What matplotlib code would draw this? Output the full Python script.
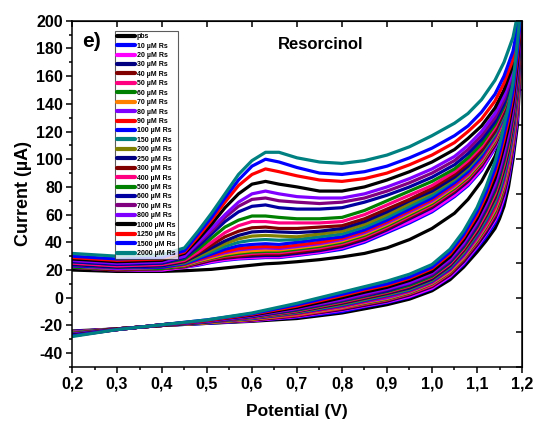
import numpy as np
import matplotlib.pyplot as plt

plt.rcParams['font.family'] = ['Liberation Sans', 'DejaVu Sans']
plt.rcParams['font.weight'] = 'bold'
plt.rcParams['axes.labelweight'] = 'bold'
plt.rcParams['axes.unicode_minus'] = False

# legend labels and colours (drawing order: pbs first, 2000 last)
labels = ['pbs', '10 µM Rs', '20 µM Rs', '30 µM Rs', '40 µM Rs', '50 µM Rs',
          '60 µM Rs', '70 µM Rs', '80 µM Rs', '90 µM Rs', '100 µM Rs',
          '150 µM Rs', '200 µM Rs', '250 µM Rs', '300 µM Rs', '400 µM Rs',
          '500 µM Rs', '600 µM Rs', '700 µM Rs', '800 µM Rs', '1000 µM Rs',
          '1250 µM Rs', '1500 µM Rs', '2000 µM Rs']
colors = ['#000000', '#0000FF', '#FF00FF', '#000080', '#800000', '#FF0080',
          '#008000', '#FF8000', '#8000FF', '#FF0000', '#0000FF', '#008080',
          '#808000', '#000080', '#800000', '#FF0080', '#008000', '#0000A0',
          '#800080', '#8000FF', '#000000', '#FF0000', '#0000FF', '#008080']

# forward (anodic) scan potentials, V
fwd_pot = [0.2, 0.3, 0.4, 0.45, 0.48, 0.51, 0.54, 0.57, 0.6, 0.63, 0.66, 0.7,
           0.75, 0.8, 0.85, 0.9, 0.95, 1.0, 1.05, 1.08, 1.11, 1.14, 1.16, 1.18, 1.2]
# reverse scan potentials, V (after the 1.2 V vertex)
rev_pot = [1.19, 1.18, 1.17, 1.16, 1.15, 1.14, 1.12, 1.1, 1.07, 1.04, 1.0,
           0.95, 0.9, 0.85, 0.8, 0.7, 0.6, 0.5, 0.4, 0.3, 0.2]

# currents (uA), one row per curve, same order as labels
fwd_cur = [
    [20, 19, 19, 19.5, 20, 20.5, 21.5, 22.5, 23.5, 24.5, 25, 26, 27.5, 29.5, 32, 36, 42, 50, 61, 71, 84, 102, 120, 146, 190],
    [22, 20, 20, 22, 23.5, 25.5, 27, 28, 28.5, 29, 29, 30.5, 32.5, 35, 40, 47, 54, 62, 73, 81, 92, 108, 122, 146, 196],
    [22, 20, 20, 22, 24, 26, 27.5, 28.5, 29, 29.5, 29.5, 31, 33, 36, 41, 48, 55, 63, 74, 82, 93, 109, 123, 147, 196],
    [22, 20, 21, 22.5, 24.5, 27, 28.5, 29.5, 30, 30.5, 30.5, 32, 34, 37, 42, 49, 57, 65, 76, 84, 95, 110, 124, 148, 197],
    [22, 20, 21, 22.5, 25, 27.5, 29, 30, 31, 31.5, 31.5, 33, 35, 38, 43, 50, 58, 66, 77, 85, 96, 111, 125, 148, 197],
    [22, 21, 21, 23, 25.5, 28, 30, 31, 32, 32.5, 32.5, 34, 36, 39, 44, 51, 59, 67, 78, 86, 97, 112, 126, 149, 198],
    [22, 21, 21, 23, 26, 28.5, 30.5, 32, 33, 33.5, 33.5, 35, 37, 40, 45, 52, 60, 68, 79, 87, 98, 113, 127, 149, 198],
    [23, 21, 22, 23.5, 26.5, 29, 31.5, 33, 34, 34.5, 34.5, 36, 38, 41, 46, 53, 61, 69, 80, 88, 99, 114, 128, 150, 198],
    [23, 21, 22, 24, 27, 30, 32.5, 34.5, 35.5, 36, 35.5, 37, 39, 42, 47, 54, 62, 70, 81, 89, 100, 115, 129, 151, 199],
    [23, 22, 22, 24, 27.5, 30.5, 33.5, 35.5, 36.5, 37, 36.5, 38, 40, 43, 48, 55, 63, 71, 82, 90, 101, 116, 130, 152, 199],
    [23, 22, 22, 24.5, 28, 31.5, 35, 37.5, 38.5, 39, 38.5, 40, 42, 44, 49, 56, 64, 72, 83, 91, 102, 117, 131, 152, 199],
    [24, 22, 23, 25, 29, 33, 37, 40, 41.5, 42, 41.5, 42, 44, 46, 51, 58, 66, 74, 85, 93, 104, 118, 132, 153, 200],
    [24, 22, 23, 25.5, 30, 34.5, 39, 42.5, 44.5, 45, 44.5, 44, 46, 48, 53, 60, 68, 76, 86, 94, 105, 119, 133, 154, 200],
    [24, 22, 23, 26, 31, 36, 41, 45, 47.5, 48, 47.5, 47, 48, 50, 55, 62, 70, 77, 87, 95, 106, 120, 134, 155, 201],
    [25, 23, 24, 26.5, 32, 38, 44, 48, 50.5, 51, 50, 50, 51, 52, 57, 64, 71, 79, 89, 97, 107, 121, 135, 156, 201],
    [25, 23, 24, 27, 33, 40, 47, 52, 55, 55, 54, 54, 54, 55, 60, 67, 74, 81, 91, 99, 109, 123, 137, 157, 202],
    [26, 24, 25, 28, 35, 43, 51, 56, 59, 59, 58, 57, 57, 58, 63, 70, 77, 84, 93, 101, 111, 125, 138, 158, 202],
    [26, 24, 25, 29, 37, 46, 55, 62, 66, 67, 65, 64, 64, 65, 69, 74, 80, 87, 96, 104, 114, 127, 140, 160, 203],
    [27, 25, 26, 30, 39, 48, 58, 66, 71, 72, 70, 69, 68, 69, 72, 77, 83, 90, 99, 107, 117, 130, 143, 162, 204],
    [27, 25, 26, 30, 40, 50, 60, 69, 75, 77, 75, 73, 72, 72, 75, 80, 86, 93, 102, 110, 120, 133, 146, 164, 205],
    [28, 26, 27, 32, 42, 53, 65, 75, 82, 84, 82, 80, 77, 77, 80, 85, 91, 98, 107, 115, 124, 137, 150, 168, 207],
    [29, 27, 28, 33, 44, 56, 69, 81, 89, 93, 91, 88, 85, 84, 86, 90, 96, 103, 112, 120, 129, 142, 155, 172, 210],
    [30, 28, 29, 34, 46, 58, 72, 85, 95, 100, 98, 94, 90, 89, 91, 95, 101, 108, 117, 124, 134, 147, 160, 178, 213],
    [32, 30, 31, 36, 48, 61, 75, 89, 99, 105, 105, 101, 98, 97, 99, 103, 109, 117, 126, 133, 143, 157, 170, 188, 220],
]
rev_cur = [
    [125, 100, 80, 66, 57, 50, 41, 33, 22, 13, 5, -1, -5, -8, -11, -15, -17, -18.5, -20, -22.5, -24],
    [130, 104, 85, 71, 61, 54, 44, 36, 24, 15, 6.5, 0.5, -3.5, -6.5, -10, -14, -16.5, -18.5, -20, -22.5, -24.5],
    [132, 107, 87, 73, 63, 56, 46, 37, 25, 15.5, 7, 1, -3, -6, -9, -13.5, -16.5, -18, -20, -22.5, -24.5],
    [135, 109, 89, 75, 65.5, 57.5, 47, 38, 26, 16.5, 8, 2, -2.5, -5.5, -8.5, -13, -16, -18, -20, -22.5, -24.5],
    [136, 110.5, 91, 77, 67, 59, 48.5, 39, 27, 17, 8.5, 2.5, -2, -5, -8, -13, -16, -18, -20, -22.5, -25],
    [138, 112, 93, 79, 69, 60.5, 49.5, 40, 28, 18, 9, 3, -1.5, -4.5, -7.5, -12.5, -15.5, -18, -20, -22.5, -25],
    [140, 114, 94.5, 80.5, 70, 62, 51, 41, 28.5, 18.5, 10, 3.5, -1, -4, -7, -12, -15.5, -18, -20, -22.5, -25],
    [142, 115, 96, 82, 72, 63.5, 52, 42, 29, 19, 10.5, 4, -0.5, -3.5, -7, -12, -15.5, -18, -20, -22.5, -25],
    [143.5, 117, 98, 84, 73.5, 65, 53, 43, 30, 20, 11, 4.5, 0, -3, -6.5, -11.5, -15, -17.5, -20, -22.5, -25],
    [145, 119, 100, 86, 75, 66, 54, 44, 31, 20.5, 11.5, 5, 1, -2.5, -6, -11.5, -15, -17.5, -20, -22.5, -25.5],
    [147, 120, 101.5, 87.5, 76.5, 68, 55.5, 45, 31.5, 21, 12, 5.5, 1.5, -2, -5.5, -11, -15, -17.5, -20, -22.5, -25.5],
    [149, 122, 103, 89, 78, 69, 56.5, 46, 32.5, 22, 12.5, 6, 2, -1.5, -5, -10.5, -14.5, -17.5, -20, -22.5, -25.5],
    [151, 124, 105, 91, 80, 70.5, 58, 47, 33, 22.5, 13, 6.5, 2.5, -1, -4.5, -10.5, -14.5, -17.5, -20, -22.5, -25.5],
    [152.5, 125, 106.5, 92.5, 81.5, 72, 59, 47.5, 34, 23, 13.5, 7, 3, -0.5, -4, -10, -14, -17.5, -20, -22.5, -26],
    [154.5, 127, 108.5, 94.5, 83, 73.5, 60, 48.5, 34.5, 24, 14.5, 8, 3.5, 0, -3.5, -9.5, -14, -17, -20, -22.5, -26],
    [156, 128.5, 110, 96, 84.5, 75, 61, 49.5, 35.5, 24.5, 15, 8.5, 4, 0.5, -3, -9.5, -14, -17, -19.5, -23, -26],
    [158.5, 131, 112.5, 98.5, 86.5, 77, 63, 51, 36.5, 25.5, 15.5, 9, 4.5, 1, -2.5, -9, -13.5, -17, -19.5, -23, -26],
    [161, 133, 115, 101, 89, 79, 64.5, 52, 37.5, 26, 16.5, 10, 5, 1.5, -2, -8.5, -13.5, -17, -19.5, -23, -26.5],
    [163.5, 135, 117, 103, 91, 80.5, 66, 53.5, 38.5, 27, 17, 10.5, 6, 2, -1.5, -8, -13, -17, -19.5, -23, -26.5],
    [166, 137.5, 119.5, 105.5, 93, 82.5, 67.5, 55, 39.5, 28, 18, 11, 6.5, 3, -1, -7.5, -13, -17, -19.5, -23, -26.5],
    [170, 141, 123.5, 109.5, 97, 86, 70, 57, 41.5, 29.5, 19, 12.5, 7.5, 4, 0, -7, -12.5, -16.5, -19.5, -23, -27],
    [175, 145.5, 128, 114, 101, 90, 73.5, 59.5, 43.5, 31.5, 21, 14, 9, 5.5, 1.5, -6, -12, -16.5, -19.5, -23, -27.5],
    [179, 149.5, 132, 118, 104.5, 93, 76, 62, 45.5, 33, 22, 15, 10, 6.5, 2.5, -5, -11.5, -16, -19.5, -23, -27.5],
    [185, 155, 138, 124, 110, 98, 80, 65, 48, 35, 24, 17, 12, 8, 4, -4, -11, -16, -19.5, -23, -28],
]

xtick_vals = [0.2, 0.3, 0.4, 0.5, 0.6, 0.7, 0.8, 0.9, 1.0, 1.1, 1.2]
xtick_labels = ['0,2', '0,3', '0,4', '0,5', '0,6', '0,7', '0,8', '0,9', '1,0', '1,1', '1,2']
ytick_vals = [-40, -20, 0, 20, 40, 60, 80, 100, 120, 140, 160, 180, 200]

fig = plt.figure(figsize=(5.4, 4.28), dpi=100)
ax = fig.add_axes([72/540, 1 - 367/428, 450/540, (367 - 20.7)/428])

for i in range(len(labels)):
    pot = fwd_pot + rev_pot
    cur = fwd_cur[i] + rev_cur[i]
    ax.plot(pot, cur, color=colors[i], lw=2.3, label=labels[i],
            solid_joinstyle='round', solid_capstyle='round')

ax.set_xlim(0.2, 1.2)
ax.set_ylim(-50, 200)
ax.set_xticks(xtick_vals)
ax.set_xticklabels(xtick_labels)
ax.set_xticks(np.arange(0.25, 1.2, 0.1), minor=True)
ax.set_yticks(ytick_vals)
ax.set_yticks(np.arange(-50, 201, 10), minor=True)
ax.tick_params(which='both', direction='out', width=1.1, labelsize=11.5)
ax.tick_params(which='major', length=4.5, pad=2)
ax.tick_params(which='minor', length=2.5)
for s in ax.spines.values():
    s.set_linewidth(1.1)

# top / right axes with inward ticks, no labels
top = ax.secondary_xaxis('top')
top.set_xticks(xtick_vals)
top.tick_params(direction='in', length=4, width=1.1, labeltop=False)
right = ax.secondary_yaxis('right')
right.set_yticks(np.arange(-50, 201, 25))
right.tick_params(direction='in', length=4, width=1.1, labelright=False)

ax.set_xlabel('Potential (V)', fontsize=12.5, fontweight='bold', labelpad=9)
ax.set_ylabel('Current (µA)', fontsize=13, fontweight='bold', labelpad=3)

ax.text(0.022, 0.94, 'e)', transform=ax.transAxes, fontsize=15, fontweight='bold',
        va='center', ha='left')
ax.text(0.553, 0.93, 'Resorcinol', transform=ax.transAxes, fontsize=12,
        fontweight='bold', va='center', ha='center')

leg = ax.legend(loc='upper left', bbox_to_anchor=(115/540, 1 - 30.7/428),
                bbox_transform=fig.transFigure, frameon=True, fancybox=False,
                prop={'family': 'Liberation Sans', 'weight': 'bold', 'size': 5},
                borderpad=0.35, labelspacing=0.35, handlelength=2.6,
                handletextpad=0.2, borderaxespad=0)
leg.get_frame().set_edgecolor('#333333')
leg.get_frame().set_linewidth(0.8)
for h in leg.get_lines():
    h.set_linewidth(3)

plt.savefig('out.png', dpi=100)
